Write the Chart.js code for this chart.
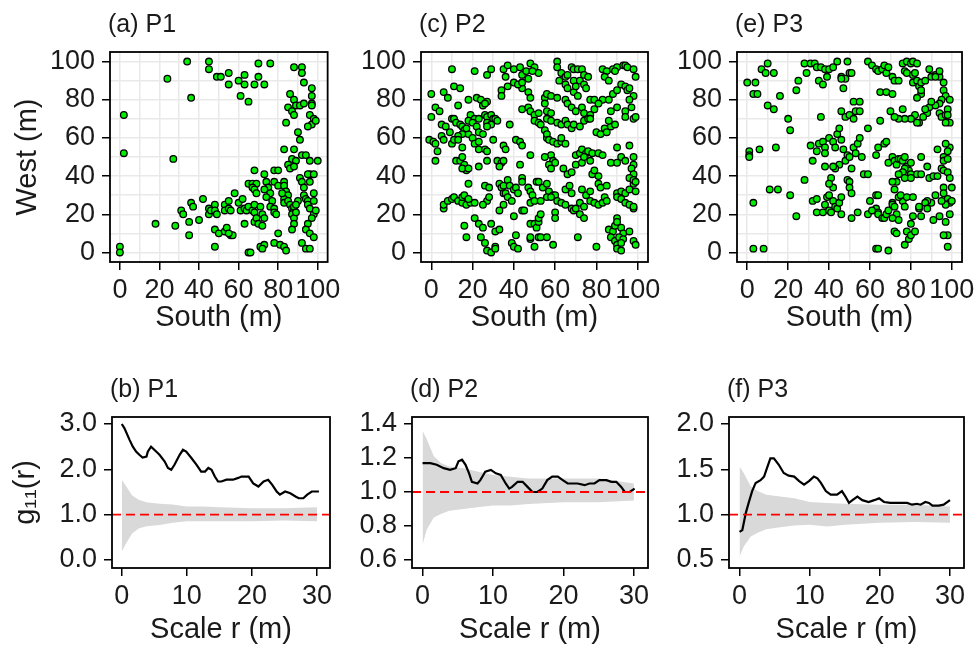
<!DOCTYPE html>
<html>
<head>
<meta charset="utf-8">
<script src="https://cdn.jsdelivr.net/npm/chart.js@4.4.1/dist/chart.umd.min.js"></script>
<style>
  body { margin: 0; background: #fff; width: 979px; height: 647px; position: relative; overflow: hidden; }
  canvas { position: absolute; }
</style>
</head>
<body>
<canvas id="pa" width="345" height="345" style="left:0;top:0"></canvas>
<canvas id="pc" width="325" height="345" style="left:345px;top:0"></canvas>
<canvas id="pe" width="309" height="345" style="left:670px;top:0"></canvas>
<canvas id="pb" width="345" height="302" style="left:0;top:345px"></canvas>
<canvas id="pd" width="325" height="302" style="left:345px;top:345px"></canvas>
<canvas id="pf" width="309" height="302" style="left:670px;top:345px"></canvas>
<script>
// stem positions [South, West] in metres
const p1Points = [
  [34,100],[45,100],[45,96],[70,99],[76,99],[24,91],[49,92],[51,92],[55,94],[55,88],[60,90],[63,93],[63,88],[68,88],
  [70,92],[73,88],[36,81],[61,82],[65,79],[2,72],[2,52],[27,49],[0,3],[0,0],[18,15],[28,14],
  [88,97],[92,97],[92,94],[93,89],[97,86],[97,82],[97,78],[86,83],[88,80],[89,77],[85,76],[87,74],[88,72],[91,77],
  [93,78],[97,77],[84,68],[96,72],[98,70],[97,67],[99,69],[95,66],[90,63],[91,59],[83,54],[88,54],[92,51],[94,51],
  [87,49],[89,48],[96,48],[85,46],[86,44],[88,45],[100,48],
  [31,22],[32,20],[36,26],[37,24],[35,16],[35,9],[40,17],[42,28],[45,23],[45,20],[46,22],[48,25],[48,22],[49,20],
  [48,12],[50,10],[48,3],[53,25],[53,22],[55,27],[55,23],[56,22],[53,11],[54,13],[56,9],[57,9],[55,10],[58,31],
  [60,26],[62,28],[61,22],[63,23],[64,22],[63,15],[65,24],[67,22],[65,0],[66,0],[65,36],[67,36],[69,36],[67,34],
  [68,33],[69,31],[68,43],[68,25],[68,21],[71,24],[68,16],[69,18],[70,15],[72,14],[71,3],[73,4],[72,2],[72,20],
  [73,18],[73,41],[74,37],[75,34],[73,33],[76,31],[74,29],[77,27],[76,24],[78,23],[78,43],[80,43],[78,37],[80,35],
  [78,21],[79,20],[80,10],[78,5],[81,4],[83,3],[84,1],[83,37],[83,35],[84,32],[85,30],[83,28],[82,31],[83,26],
  [85,27],[86,25],[87,23],[88,22],[88,24],[90,27],[89,25],[87,20],[88,18],[88,15],[87,12],[89,21],[91,39],[92,37],
  [93,34],[93,30],[94,28],[95,27],[95,25],[96,23],[98,20],[97,18],[98,27],[98,31],[99,22],[95,15],[94,12],[96,10],
  [98,8],[92,5],[94,2],[96,2],[96,41],[95,41],[98,41],[96,37]
];
const p2Points = [
  [10,96],[21,95],[27,93],[29,96],[35,96],[37,98],[40,96],[36,92],[43,97],[44,93],[46,95],[47,91],[48,99],[50,97],
  [52,94],[49,95],[61,100],[61,97],[63,94],[65,92],[62,90],[68,97],[69,96],[71,96],[73,96],[74,93],[76,92],[66,93],
  [69,90],[72,90],[83,96],[85,95],[88,96],[90,97],[93,98],[94,98],[95,97],[98,96],[99,92],[84,92],[86,90],[89,95],
  [0,83],[6,84],[8,81],[11,87],[14,86],[18,80],[22,81],[24,80],[27,79],[34,85],[34,82],[37,87],[40,89],[44,86],
  [47,84],[48,81],[42,88],[44,89],[55,81],[56,83],[58,82],[61,81],[65,88],[66,86],[69,84],[70,87],[71,82],[74,88],
  [75,86],[77,80],[79,80],[83,80],[86,80],[88,83],[90,85],[92,88],[94,87],[95,85],[96,86],[98,82],[96,80],
  [0,71],[2,76],[4,74],[13,77],[25,77],[26,78],[19,72],[21,70],[23,70],[26,72],[27,71],[29,72],[30,70],[44,75],
  [47,76],[48,74],[50,72],[52,73],[55,78],[56,74],[58,73],[65,80],[66,78],[68,76],[70,74],[73,76],[74,73],[77,72],
  [79,75],[81,78],[87,74],[90,76],[94,74],[97,76],[94,71],[98,70],[99,71],
  [5,67],[7,66],[10,70],[11,70],[12,68],[14,67],[15,66],[16,64],[18,62],[17,65],[15,62],[13,61],[9,63],[18,69],
  [20,68],[22,66],[23,63],[25,62],[27,68],[29,67],[31,70],[32,69],[27,66],[38,67],[50,69],[52,68],[53,67],[56,70],
  [58,69],[55,64],[56,60],[61,68],[63,67],[65,69],[66,67],[68,65],[69,67],[72,66],[74,69],[76,70],[77,70],[80,63],
  [82,62],[84,65],[85,63],[87,66],[89,67],[86,69],
  [-1,59],[1,58],[2,57],[5,61],[6,59],[3,53],[10,57],[11,59],[13,59],[15,55],[20,60],[21,57],[23,58],[23,54],
  [26,54],[27,53],[30,59],[35,56],[36,54],[41,59],[43,58],[44,56],[56,62],[57,59],[59,58],[61,57],[63,58],[65,57],
  [63,60],[58,51],[59,48],[70,51],[72,52],[73,54],[75,52],[76,53],[78,52],[81,52],[83,51],[90,55],[92,50],[96,56],
  [98,50],
  [2,48],[12,48],[14,48],[15,50],[16,46],[17,43],[15,44],[18,44],[23,45],[27,48],[32,48],[34,47],[35,48],[33,45],
  [43,46],[48,51],[55,50],[57,46],[58,44],[60,47],[64,44],[66,41],[68,42],[70,46],[73,47],[74,50],[77,48],[78,41],
  [79,43],[81,40],[87,47],[90,47],[94,48],[98,46],[97,44],[98,41],[96,39],
  [18,36],[26,35],[28,34],[33,36],[34,34],[35,35],[35,31],[36,31],[37,38],[38,35],[40,33],[41,34],[42,31],[44,39],
  [44,37],[47,34],[48,32],[49,30],[51,37],[52,37],[54,34],[56,36],[57,32],[59,30],[60,30],[65,33],[67,35],[68,31],
  [73,33],[75,30],[77,32],[81,36],[82,34],[85,35],[90,31],[92,32],[94,31],[96,33],[98,36],[99,32],[98,38],[99,37],
  [6,23],[6,25],[8,27],[10,28],[11,29],[13,27],[15,26],[15,29],[16,30],[17,25],[19,26],[18,28],[21,26],[27,27],
  [28,29],[25,25],[33,22],[35,25],[37,29],[39,27],[44,22],[45,22],[48,26],[50,27],[53,27],[56,29],[58,29],[60,21],
  [61,27],[63,26],[65,25],[68,23],[69,22],[70,23],[72,26],[74,24],[77,27],[79,26],[81,25],[83,26],[84,29],[85,27],
  [90,29],[92,28],[94,26],[96,25],[98,23],[98,24],
  [16,14],[21,18],[23,15],[25,13],[29,15],[31,11],[33,12],[40,19],[48,15],[50,15],[51,13],[52,16],[52,18],[53,20],
  [60,18],[72,20],[74,18],[86,12],[88,11],[89,14],[90,18],[90,16],[92,13],[93,10],[96,11],
  [17,8],[24,8],[26,5],[27,1],[29,0],[31,3],[31,2],[39,5],[40,3],[42,2],[41,9],[48,7],[48,8],[50,3],[52,8],[53,8],
  [56,8],[59,4],[71,8],[80,3],[87,8],[89,6],[90,4],[90,2],[92,1],[91,8],[93,7],[92,5],[98,6],[99,4]
];
const p3Points = [
  [0,89],[4,89],[3,83],[5,83],[7,96],[9,94],[10,99],[13,94],[10,77],[13,75],[16,82],[20,70],[21,64],[24,85],[25,90],
  [29,94],[28,99],[31,99],[33,99],[34,97],[36,97],[35,90],[37,88],[38,96],[40,96],[42,97],[44,100],[39,92],[46,92],
  [48,91],[49,100],[50,94],[51,94],[47,86],[46,91],
  [1,53],[1,51],[1,50],[6,54],[14,55],[3,26],[3,2],[8,2],[11,33],[15,33],[21,30],[24,19],[28,38],
  [31,56],[32,48],[34,53],[35,57],[36,71],[37,58],[38,55],[38,52],[40,60],[42,58],[43,55],[44,62],[45,65],[46,59],
  [47,54],[49,51],[48,48],[45,46],[43,44],[42,45],[38,45],[50,50],[51,44],[52,55],[53,52],[54,57],[55,60],[56,50],
  [57,41],[59,41],[59,65],[46,74],[48,71],[50,72],[52,70],[53,74],[55,74],[52,79],[55,79],
  [32,27],[34,28],[34,21],[37,21],[38,25],[39,29],[40,30],[40,22],[41,21],[42,27],[43,24],[44,23],[45,26],[46,20],
  [46,29],[49,38],[50,37],[50,34],[51,31],[51,18],[54,21],[41,39],[42,34],[40,36],
  [59,100],[61,98],[63,96],[64,95],[66,96],[67,98],[68,94],[69,97],[71,92],[72,90],[65,84],[68,84],[71,83],[74,90],
  [76,99],[78,100],[80,99],[81,100],[83,99],[77,95],[78,94],[81,93],[82,94],[81,89],[83,90],[84,87],[85,89],[87,90],
  [85,83],[83,81],[85,85],[90,92],[92,93],[94,92],[96,89],[96,85],[97,82],[99,80],[98,75],[95,80],[94,78],[92,77],
  [89,76],[90,79],[88,73],[87,75],[86,71],[84,68],[83,68],[82,72],[80,70],[77,70],[74,70],[72,71],[70,74],[65,69],
  [76,75],[94,73],[95,71],[97,72],[99,68],[97,68],[98,72],[92,92],[94,95],[89,96],
  [63,51],[64,55],[67,57],[68,58],[69,47],[71,50],[72,48],[73,46],[74,49],[75,49],[76,48],[77,50],[78,45],[79,43],
  [80,41],[80,47],[77,44],[76,42],[74,41],[73,37],[71,37],[72,33],[77,39],[80,39],[83,41],[85,41],[85,50],[88,45],
  [89,39],[91,40],[93,40],[93,54],[96,50],[96,48],[98,49],[99,55],[98,53],[97,57],[95,44],[96,43],[98,42],[99,39],
  [100,34],[96,34],[96,31],[98,28],[99,26],[97,25],[100,27],[95,27],[92,30],[90,26],[88,27],[85,19],[84,23],[81,19],
  [80,15],[78,11],[79,7],[77,4],[80,9],[82,11],
  [63,30],[64,30],[63,23],[64,21],[64,20],[66,18],[67,18],[68,20],[69,22],[71,26],[71,25],[72,24],[73,20],[74,17],
  [71,18],[72,11],[73,10],[76,27],[77,24],[74,29],[75,30],[78,29],[81,29],[84,24],[87,26],[88,23],[91,17],[94,19],
  [97,16],[99,20],[98,9],[96,9],[98,3],[63,2],[64,2],[69,1],[59,20],[61,22],[60,27]
];

// pair correlation g11(r)
const rP1 = [0,0.4,1.2,1.7,2.2,2.7,3.2,3.8,4.0,4.5,5.0,5.8,6.6,7.1,7.6,8.1,8.9,9.4,9.9,10.7,11.5,12.2,12.8,13.3,13.8,14.3,14.8,15.3,16.1,17.1,17.9,18.4,19.5,20.2,21.0,21.8,22.5,23.1,23.8,24.3,25.1,25.9,26.7,27.2,27.9,28.5,29.2,30.3];
const gP1 = [3.0,2.91,2.65,2.5,2.39,2.32,2.26,2.28,2.39,2.5,2.43,2.32,2.17,2.03,1.99,2.1,2.32,2.43,2.39,2.25,2.1,1.95,1.95,2.03,1.99,1.84,1.73,1.73,1.77,1.77,1.81,1.84,1.84,1.69,1.62,1.73,1.77,1.66,1.51,1.44,1.51,1.47,1.4,1.36,1.36,1.44,1.51,1.51];
const rP2 = [0,1.1,2.0,3.0,3.9,4.7,5.1,5.6,6.1,6.6,7.0,7.8,8.2,8.9,9.7,10.4,11.1,11.8,12.3,12.7,13.5,14.2,14.9,15.6,16.3,17.0,17.7,18.4,19.2,19.9,20.6,22.0,23.0,23.7,24.4,25.1,26.1,26.8,27.5,28.2,28.7,29.4,30.1];
const gP2 = [1.17,1.17,1.16,1.14,1.13,1.14,1.18,1.19,1.16,1.11,1.06,1.05,1.07,1.12,1.13,1.11,1.10,1.05,1.02,1.03,1.06,1.06,1.03,1.0,1.0,1.02,1.07,1.09,1.09,1.07,1.05,1.05,1.04,1.05,1.05,1.07,1.07,1.06,1.06,1.03,1.0,1.0,1.02];
const rP3 = [0,0.4,0.9,1.3,1.8,2.3,3.0,3.5,3.9,4.4,4.9,5.6,6.3,7.0,7.8,8.5,9.2,9.9,10.6,11.1,11.6,12.3,13.0,13.9,14.6,15.1,15.6,16.1,16.8,17.5,18.4,19.2,19.9,20.6,21.5,22.3,23.0,23.9,24.6,25.3,25.8,26.5,27.0,27.5,28.4,29.1,30.0];
const gP3 = [0.81,0.83,1.02,1.13,1.26,1.35,1.38,1.42,1.51,1.62,1.62,1.55,1.46,1.43,1.42,1.37,1.33,1.37,1.42,1.40,1.35,1.26,1.22,1.22,1.26,1.2,1.13,1.16,1.2,1.16,1.14,1.16,1.18,1.14,1.13,1.13,1.13,1.13,1.11,1.12,1.11,1.14,1.13,1.10,1.10,1.11,1.16];

// simulation envelopes
const envR = [0,0.6,1.6,2.6,3.8,5.8,7.8,10,12.5,15,20,25,30];
const hiP1 = [1.77,1.64,1.42,1.33,1.27,1.24,1.22,1.18,1.18,1.16,1.14,1.14,1.16];
const loP1 = [0.18,0.35,0.58,0.69,0.74,0.77,0.82,0.85,0.85,0.85,0.85,0.87,0.85];
const hiP2 = [1.36,1.31,1.21,1.17,1.15,1.14,1.12,1.10,1.09,1.08,1.08,1.08,1.05];
const loP2 = [0.69,0.78,0.85,0.87,0.89,0.90,0.91,0.92,0.92,0.93,0.94,0.94,0.95];
const hiP3 = [1.53,1.46,1.31,1.26,1.22,1.20,1.18,1.14,1.13,1.12,1.11,1.11,1.09];
const loP3 = [0.54,0.65,0.76,0.80,0.84,0.86,0.88,0.89,0.87,0.89,0.91,0.92,0.91];

// axis ticks
const mapGrid = [0,10,20,30,40,50,60,70,80,90,100];
const mapTicks = [0,20,40,60,80,100];
const rTicks = [0,10,20,30];
const gTicksP1 = [0,1,2,3];
const gTicksP2 = [0.6,0.8,1.0,1.2,1.4];
const gTicksP3 = [0.5,1.0,1.5,2.0];

const FONT = '"Liberation Sans", Arial, sans-serif';
const INK = "#1a1a1a";
Chart.defaults.font.family = FONT;
Chart.defaults.color = INK;

const panelTitle = {
  id: "panelTitle",
  afterDraw(chart, args, opts) {
    const { ctx, chartArea } = chart;
    ctx.save();
    ctx.font = "25px " + FONT;
    ctx.fillStyle = INK;
    ctx.textBaseline = "middle";
    ctx.fillText(opts.text, chartArea.left - 2, chartArea.top - 27);
    ctx.restore();
  },
};

const frame = {
  id: "frame",
  afterDatasetsDraw(chart, args, opts) {
    const { ctx, chartArea } = chart;
    ctx.save();
    if (opts.refY !== undefined) {
      const y = chart.scales.y.getPixelForValue(opts.refY);
      ctx.strokeStyle = "#ff0000";
      ctx.lineWidth = 1.8;
      ctx.setLineDash([9, 5]);
      ctx.beginPath();
      ctx.moveTo(chartArea.left, y);
      ctx.lineTo(chartArea.right, y);
      ctx.stroke();
      ctx.setLineDash([]);
    }
    ctx.strokeStyle = "#000";
    ctx.lineWidth = 1.8;
    ctx.strokeRect(chartArea.left, chartArea.top, chartArea.width, chartArea.height);
    ctx.restore();
  },
};

function axis(min, max, vals, labels, fmt, size, pad, title, titlePad, grid) {
  return {
    type: "linear",
    min: min,
    max: max,
    afterBuildTicks: (s) => { s.ticks = vals.map((v) => ({ value: v })); },
    afterFit: (s) => { if (s.isHorizontal()) s.height = size; else s.width = size; },
    ticks: {
      autoSkip: false,
      maxRotation: 0,
      minRotation: 0,
      padding: pad,
      color: INK,
      font: { size: 27 },
      callback: (v) => (labels.includes(v) ? fmt(v) : ""),
    },
    grid: {
      drawOnChartArea: grid,
      color: "#e9e9e9",
      lineWidth: 1.5,
      drawTicks: true,
      tickLength: 8,
      tickWidth: 1.5,
      tickColor: (c) => (c.tick && labels.includes(c.tick.value) ? "#000" : "rgba(0,0,0,0)"),
    },
    border: { display: false },
    title: {
      display: !!title,
      text: title || "",
      color: INK,
      font: { size: 29 },
      padding: titlePad,
    },
  };
}

function mapPanel(id, title, pts, yTitle, yW, padR) {
  new Chart(document.getElementById(id), {
    type: "scatter",
    data: {
      datasets: [{
        data: pts.map((p) => ({ x: p[0], y: p[1] })),
        pointRadius: 3.3,
        pointBorderWidth: 1.3,
        pointBackgroundColor: "#00f000",
        pointBorderColor: "#000",
      }],
    },
    options: {
      responsive: false,
      animation: false,
      events: [],
      layout: { padding: { top: 52, right: padR, left: 0, bottom: 0 } },
      plugins: { legend: { display: false }, tooltip: { enabled: false }, panelTitle: { text: title }, frame: {} },
      scales: {
        x: axis(-5, 105, mapGrid, mapTicks, (v) => v, 83, 4, "South (m)", { bottom: 9.6 }, true),
        y: axis(-5, 105, mapGrid, mapTicks, (v) => v, yW, 7, yTitle, { top: 10.6 }, true),
      },
    },
    plugins: [panelTitle, frame],
  });
}

function gPanel(id, title, r, g, hi, lo, yMin, yMax, yTicks, yTitle, yW, padR) {
  new Chart(document.getElementById(id), {
    type: "scatter",
    data: {
      datasets: [
        {
          data: r.map((v, i) => ({ x: v, y: g[i] })),
          showLine: true,
          borderColor: "#000",
          borderWidth: 2.2,
          pointRadius: 0,
        },
        {
          data: envR.map((v, i) => ({ x: v, y: hi[i] })),
          showLine: true,
          borderWidth: 0,
          pointRadius: 0,
          backgroundColor: "#d9d9d9",
          fill: "+1",
        },
        {
          data: envR.map((v, i) => ({ x: v, y: lo[i] })),
          showLine: true,
          borderWidth: 0,
          pointRadius: 0,
        },
      ],
    },
    options: {
      responsive: false,
      animation: false,
      events: [],
      layout: { padding: { top: 72, right: padR, left: 0, bottom: 0 } },
      plugins: { legend: { display: false }, tooltip: { enabled: false }, panelTitle: { text: title }, frame: { refY: 1 } },
      scales: {
        x: axis(-1.5, 32, rTicks, rTicks, (v) => v, 79, 4, "Scale r (m)", { bottom: 0 }, false),
        y: axis(yMin, yMax, yTicks, yTicks, (v) => v.toFixed(1), yW, 7, yTitle, { top: 8.6 }, false),
      },
    },
    plugins: [panelTitle, frame],
  });
}

mapPanel("pa", "(a) P1", p1Points, "West (m)", 110, 16);
mapPanel("pc", "(c) P2", p2Points, "", 76, 22);
mapPanel("pe", "(e) P3", p3Points, "", 67, 15);

gPanel("pb", "(b) P1", rP1, gP1, hiP1, loP1, -0.18, 3.155, gTicksP1, "g\u2081\u2081(r)", 112, 15);
gPanel("pd", "(d) P2", rP2, gP2, hiP2, loP2, 0.553, 1.441, gTicksP2, "", 67, 22);
gPanel("pf", "(f) P3", rP3, gP3, hiP3, loP3, 0.412, 2.077, gTicksP3, "", 59, 15);
</script>
</body>
</html>
